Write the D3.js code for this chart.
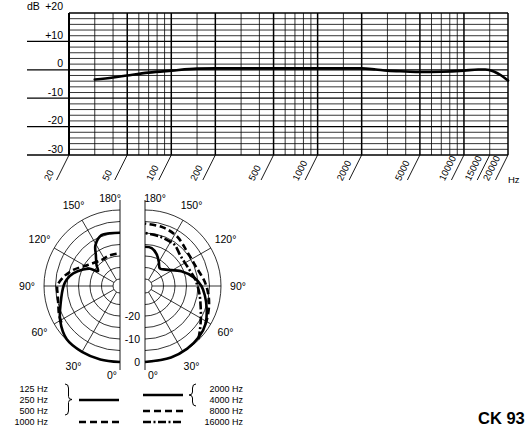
<!DOCTYPE html>
<html><head><meta charset="utf-8">
<script src="https://cdn.jsdelivr.net/npm/d3@7"></script>
<style>
body{margin:0;background:#fff}
svg{display:block}
text{font-family:"Liberation Sans",Arial,Helvetica,sans-serif;fill:#000}
</style>
</head><body>
<svg id="c" width="526" height="433"></svg>
<script>
// ---------- Frequency response data ----------
const freqTicks = [20,50,100,200,500,1000,2000,5000,10000,15000,20000];
const freqTickLabels = ["20","50","100","200","500","1000","2000","5000","10000","15000","20000"];
const freqGrid = [20,30,40,50,60,70,80,90,100,150,200,300,400,500,600,700,800,900,1000,1500,2000,3000,4000,5000,6000,7000,8000,9000,10000,15000,20000];
const freqMajor = [20,50,100,200,500,1000,2000,5000,10000,20000];
const dbTicks = [10,0,-10,-20,-30];
const dbTickLabels = ["+10","0","-10","-20","-30"];
const dbMinor = [18,16,14,12,8,6,4,2,-2,-4,-6,-8,-12,-14,-16,-18,-22,-24,-26,-28];
const respFreq = [30,40,50,70,100,150,200,500,1000,2000,2500,3000,4000,5000,7000,10000,12500,14000,16000,18000,20000];
const respDb   = [-3.4,-2.7,-2.0,-1.0,-0.3,0.4,0.5,0.5,0.5,0.5,0.1,-0.3,-0.6,-0.8,-0.7,-0.3,0.1,0.1,-0.6,-2.0,-3.8];

// ---------- Polar data (angle in degrees from 0° at bottom, level in dB) ----------
const ringDb = [0,-5,-10,-15,-20,-25,-30];
const ringLabels = [-20,-10,0];
const spokeAngles = [30,60,90,120,150];
const angleLabels = [0,30,60,90,120,150,180];
// left half: 125/250/500 Hz (solid) and 1000 Hz (dashed)
const lowAngles = [0,15,30,45,60,75,90,97,105,114,120,124,132,142,149,160,169,180];
const lowDb     = [0,0,0,-0.3,-3,-6.4,-8.5,-9.7,-12,-15.5,-18,-21.5,-19.3,-16,-12.3,-9.5,-9.7,-9.9];
const f1000Angles = [58,65,73,82,90,99,109,124,145,160,180];
const f1000Db     = [-3,-3.8,-5,-5.7,-5.8,-8.1,-11.6,-16.5,-19.2,-19,-18.8];
// right half: 2000/4000 Hz (solid), 8000 Hz (dashed), 16000 Hz (dash-dot)
const highAngles = [0,20,34,47,58,70,81,90,100,112,128,140,150,160,170,180];
const highDb     = [0,0,-0.2,-0.8,-2,-4.5,-6.7,-8.5,-11.5,-16,-21.5,-23,-21,-18.3,-16.3,-16];
const f8000Angles = [58,62,72,82,94,110,128,147,163,180];
const f8000Db     = [-2,-2.5,-3.8,-5.2,-7,-9.3,-9.5,-7.4,-6.4,-5.9];
const f16000Angles = [45,50,60,70,81,90,99,115,130,144,150,163,180];
const f16000Db     = [-0.3,-2,-5,-7.3,-9,-10.2,-11.2,-12.8,-12.8,-11,-10.9,-10.6,-10];

// legend
const legendLeft = ["125 Hz","250 Hz","500 Hz","1000 Hz"];
const legendRight = ["2000 Hz","4000 Hz","8000 Hz","16000 Hz"];

const svg = d3.select("#c");

// ================= Frequency response =================
const X = d3.scaleLog().domain([20,20000]).range([69,508]);
const Y = d3.scaleLinear().domain([-30,20]).range([155,13]);
const fr = svg.append("g");

fr.selectAll(".hmin").data(dbMinor).join("line")
  .attr("x1",X(20)).attr("x2",X(20000)).attr("y1",d=>Y(d)).attr("y2",d=>Y(d))
  .attr("stroke","#000").attr("stroke-width",0.8);
fr.selectAll(".vmin").data(freqGrid).join("line")
  .attr("x1",d=>X(d)).attr("x2",d=>X(d)).attr("y1",Y(20)).attr("y2",Y(-30))
  .attr("stroke","#000").attr("stroke-width",d=>freqMajor.includes(d)?1.5:0.8);
fr.selectAll(".hmaj").data(dbTicks).join("line")
  .attr("x1",27).attr("x2",X(20000)).attr("y1",d=>Y(d)).attr("y2",d=>Y(d))
  .attr("stroke","#000").attr("stroke-width",1.3);
fr.append("line").attr("x1",X(20)).attr("x2",X(20000)).attr("y1",Y(20)).attr("y2",Y(20))
  .attr("stroke","#000").attr("stroke-width",1.3);
fr.append("line").attr("x1",X(20)).attr("x2",X(20)).attr("y1",Y(20)).attr("y2",Y(-30))
  .attr("stroke","#000").attr("stroke-width",2);

fr.selectAll(".dbl").data(dbTicks).join("text")
  .attr("x",63).attr("y",d=>Y(d)-2.5).attr("text-anchor","end")
  .attr("font-size",10.5).text((d,i)=>dbTickLabels[i]);
fr.append("text").attr("x",27).attr("y",9.5).attr("font-size",10.5).text("dB");
fr.append("text").attr("x",63).attr("y",9.5).attr("font-size",10.5).attr("text-anchor","end").text("+20");

// slanted ticks and labels
fr.selectAll(".st").data(freqTicks).join("line")
  .attr("x1",d=>X(d)).attr("y1",Y(-30)).attr("x2",d=>X(d)-12.5).attr("y2",Y(-30)+25)
  .attr("stroke","#000").attr("stroke-width",0.9);
fr.selectAll(".fl").data(freqTicks).join("text")
  .attr("transform",d=>`translate(${X(d)-19.5},${Y(-30)+26.5}) rotate(-63.4)`)
  .attr("font-size",9.5).text((d,i)=>freqTickLabels[i]);
fr.append("text").attr("x",508).attr("y",183).attr("font-size",9.5).text("Hz");

const respLine = d3.line().x((d,i)=>X(respFreq[i])).y(d=>Y(d)).curve(d3.curveMonotoneX);
fr.append("path").attr("d",respLine(respDb)).attr("fill","none")
  .attr("stroke","#000").attr("stroke-width",2.6).attr("stroke-linecap","round");

// ================= Polar plots =================
const cy = 286, cxL = 120, cxR = 145;
const R = d3.scaleLinear().domain([-30,0]).range([7,76]);
const rad = a => a*Math.PI/180;

function half(cx, side){ // side -1 left, +1 right
  const g = svg.append("g").attr("transform",`translate(${cx},${cy})`);
  g.selectAll("path.ring").data(ringDb).join("path")
    .attr("d",d=>{const r=R(d);return `M0,${r} A${r},${r} 0 0 ${side<0?1:0} 0,${-r}`;})
    .attr("fill","none").attr("stroke","#000").attr("stroke-width",0.8);
  g.selectAll("line.sp").data(spokeAngles).join("line")
    .attr("x1",d=>side*R(-30)*Math.sin(rad(d))).attr("y1",d=>R(-30)*Math.cos(rad(d)))
    .attr("x2",d=>side*R(0)*Math.sin(rad(d))).attr("y2",d=>R(0)*Math.cos(rad(d)))
    .attr("stroke","#000").attr("stroke-width",0.8);
  g.append("line").attr("x1",0).attr("x2",0).attr("y1",-86).attr("y2",84)
    .attr("stroke","#000").attr("stroke-width",0.9);
  g.selectAll("text.al").data(angleLabels).join("text")
    .attr("x",d=>{
      if(d===0) return side*8;
      if(d===180) return side*10;
      return side*93*Math.sin(rad(d));})
    .attr("y",d=>{
      if(d===0) return 89;
      if(d===180) return -88;
      return 93*Math.cos(rad(d));})
    .attr("dy","0.35em").attr("text-anchor","middle").attr("font-size",10.5)
    .text(d=>d+"°");
  return g;
}
const gL = half(cxL,-1);
const gR = half(cxR, 1);

gR.selectAll("text.rl").data(ringLabels).join("text")
  .attr("x",-5).attr("y",d=>R(d)).attr("dy","0.35em").attr("text-anchor","end")
  .attr("font-size",10.5).text(d=>d);

function polarLine(side){
  return d3.lineRadial()
    .angle((d)=> side<0 ? Math.PI + rad(d[0]) : Math.PI - rad(d[0]))
    .radius(d=>R(d[1]))
    .curve(d3.curveCatmullRom.alpha(0.5));
}
function drawSeries(g, side, angles, dbs, dash){
  g.append("path").attr("d",polarLine(side)(angles.map((a,i)=>[a,dbs[i]])))
    .attr("fill","none").attr("stroke","#000").attr("stroke-width",2.6)
    .attr("stroke-dasharray",dash||null);
}
drawSeries(gL,-1,f1000Angles,f1000Db,"6.5,3.5");
drawSeries(gL,-1,lowAngles,lowDb);
drawSeries(gR,1,f8000Angles,f8000Db,"6.5,3.5");
drawSeries(gR,1,f16000Angles,f16000Db,"8,2.5,2,2.5");
drawSeries(gR,1,highAngles,highDb);

// ================= Legend =================
const lg = svg.append("g");
const rowY = [389,400,411,422];
lg.selectAll("text.ll").data(legendLeft).join("text")
  .attr("x",48).attr("y",(d,i)=>rowY[i]).attr("dy","0.35em").attr("text-anchor","end")
  .attr("font-size",9).text(d=>d);
lg.selectAll("text.lr").data(legendRight).join("text")
  .attr("x",243).attr("y",(d,i)=>rowY[i]).attr("dy","0.35em").attr("text-anchor","end")
  .attr("font-size",9).text(d=>d);

function brace(x,y0,y1,w,dir){
  const ym=(y0+y1)/2, xm=x+dir*w/2, xt=x+dir*w;
  return `M${x},${y0} Q${xm},${y0} ${xm},${y0+4} L${xm},${ym-3} Q${xm},${ym} ${xt},${ym} Q${xm},${ym} ${xm},${ym+3} L${xm},${y1-4} Q${xm},${y1} ${x},${y1}`;
}
lg.append("path").attr("d",brace(65,384,415,7,1)).attr("fill","none").attr("stroke","#000").attr("stroke-width",1);
lg.append("path").attr("d",brace(196,384,406,7,-1)).attr("fill","none").attr("stroke","#000").attr("stroke-width",1);

const legLines = [
  {x:79,y:400,dash:null},
  {x:79,y:422,dash:"7,4"},
  {x:143,y:395,dash:null},
  {x:143,y:411,dash:"7,4"},
  {x:143,y:422,dash:"8,2.5,2,2.5"}
];
lg.selectAll("line.lgl").data(legLines).join("line")
  .attr("x1",d=>d.x).attr("x2",d=>d.x+40).attr("y1",d=>d.y).attr("y2",d=>d.y)
  .attr("stroke","#000").attr("stroke-width",2.5).attr("stroke-dasharray",d=>d.dash);

svg.append("text").attr("x",478).attr("y",424).attr("font-size",16.5)
  .attr("font-weight","bold").text("CK 93");
</script>
</body></html>
